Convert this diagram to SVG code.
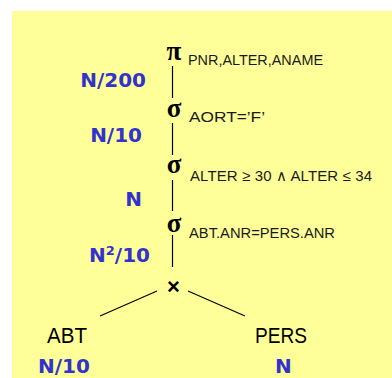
<svg xmlns="http://www.w3.org/2000/svg" width="392" height="378" viewBox="0 0 392 378">
  <style>
    .op { font-family: "Liberation Serif", "DejaVu Serif", serif; font-weight: bold; font-size: 27px; fill: #000; text-anchor: middle; }
    .cond { font-family: "Liberation Sans", Arial, sans-serif; font-size: 15px; fill: #1a1a1a; }
    .rel { font-family: "Liberation Sans", Arial, sans-serif; font-size: 22px; fill: #000; }
    .card { font-family: "DejaVu Sans", Verdana, sans-serif; font-weight: bold; font-size: 20px; fill: #3333cc; }
    .edge { stroke: #000; stroke-width: 1.2; fill: none; }
  </style>

  <rect x="12" y="11" width="380" height="367" fill="#ffff99"/>

  <g id="connectors">
    <line class="edge" x1="172.5" y1="66" x2="172.5" y2="98"/>
    <line class="edge" x1="172.5" y1="123" x2="172.5" y2="155"/>
    <line class="edge" x1="172.5" y1="180" x2="172.5" y2="211"/>
    <line class="edge" x1="172.5" y1="235" x2="172.5" y2="267"/>
    <line class="edge" x1="157" y1="291" x2="100" y2="316"/>
    <line class="edge" x1="188" y1="291" x2="245" y2="316"/>
  </g>

  <g id="projection">
    <text class="op" x="174" y="60">π</text>
    <text class="cond" x="188" y="65" textLength="135" lengthAdjust="spacingAndGlyphs">PNR,ALTER,ANAME</text>
  </g>
  <text class="card" x="146" y="87" text-anchor="end">N/200</text>

  <g id="select-aort">
    <text class="op" x="174" y="117">σ</text>
    <text class="cond" x="189" y="122" textLength="76" lengthAdjust="spacingAndGlyphs">AORT=’F’</text>
  </g>
  <text class="card" x="142" y="142" text-anchor="end">N/10</text>

  <g id="select-alter">
    <text class="op" x="174" y="173">σ</text>
    <text class="cond" x="190" y="181" textLength="182" lengthAdjust="spacing">ALTER ≥ 30 ∧ ALTER ≤ 34</text>
  </g>
  <text class="card" x="142" y="206" text-anchor="end">N</text>

  <g id="select-join">
    <text class="op" x="174" y="232">σ</text>
    <text class="cond" x="189" y="238" textLength="146" lengthAdjust="spacingAndGlyphs">ABT.ANR=PERS.ANR</text>
  </g>
  <text class="card" x="150" y="262" text-anchor="end">N<tspan dy="-7" font-size="13">2</tspan><tspan dy="7">/10</tspan></text>

  <g id="product">
    <text class="rel" x="173.5" y="294" text-anchor="middle" font-weight="bold" font-size="30">×</text>
  </g>

  <g id="abt">
    <text class="rel" x="47" y="343" textLength="40" lengthAdjust="spacingAndGlyphs">ABT</text>
    <text class="card" x="38" y="373">N/10</text>
  </g>

  <g id="pers">
    <text class="rel" x="255" y="343" textLength="52" lengthAdjust="spacingAndGlyphs">PERS</text>
    <text class="card" x="275" y="373">N</text>
  </g>
</svg>
